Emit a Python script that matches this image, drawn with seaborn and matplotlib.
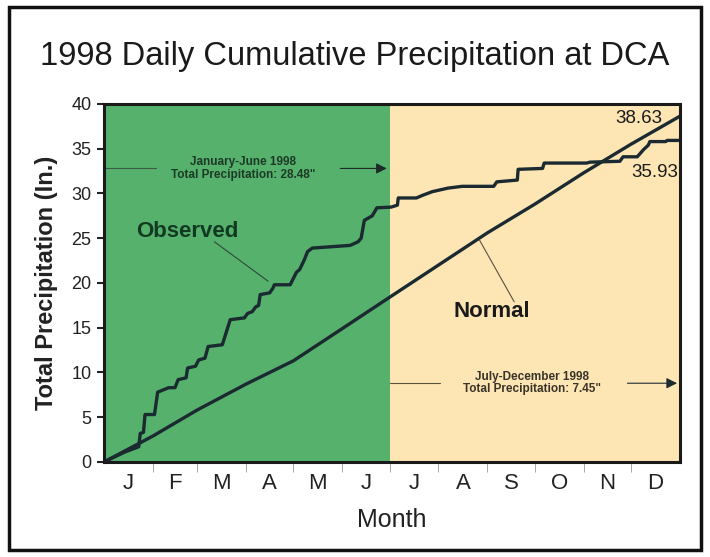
import matplotlib
import numpy as np
import pandas as pd
import seaborn as sns
from matplotlib import pyplot as plt
from matplotlib.patches import Rectangle

matplotlib.use("Agg")

# month layout (day of year)
month_labels = ["J", "F", "M", "A", "M", "J", "J", "A", "S", "O", "N", "D"]
month_edges = [0, 31, 59, 90, 120, 151, 181, 212, 243, 273, 304, 334, 365]

# observed cumulative precipitation
obs_day = [0, 13, 22, 23, 25, 26, 32, 34, 41, 45, 47, 52, 53, 58, 60, 64, 66, 75, 80, 89,
           91, 94, 96, 98, 99, 105, 107, 108, 118, 122, 124, 127, 129, 132, 156, 161, 163,
           165, 170, 173, 182, 186, 186.5, 198, 202, 208, 218, 227, 247, 249, 262, 262.5,
           278, 279, 306, 308, 327, 329, 338, 342, 345, 346, 356, 357, 365]
obs_val = [0, 1.1, 1.7, 3.2, 3.3, 5.3, 5.3, 7.8, 8.3, 8.3, 9.2, 9.4, 10.5, 10.7, 11.4, 11.6,
           12.9, 13.1, 15.9, 16.1, 16.6, 16.8, 17.3, 17.5, 18.7, 18.9, 19.4, 19.8, 19.8, 21.2,
           21.5, 22.6, 23.5, 23.9, 24.2, 24.6, 25.0, 27.0, 27.5, 28.4, 28.48, 28.7, 29.5,
           29.5, 29.8, 30.2, 30.6, 30.8, 30.8, 31.3, 31.5, 32.7, 32.8, 33.4, 33.4, 33.5,
           33.6, 34.1, 34.1, 34.9, 35.4, 35.8, 35.8, 35.93, 35.93]

# normal cumulative precipitation at month ends
normal_day = month_edges
normal_val = [0, 2.9, 5.8, 8.7, 11.3, 14.9, 18.4, 22.0, 25.6, 28.8, 32.3, 35.5, 38.63]

GREEN = "#55b16c"
YELLOW = "#fde6b4"
INK = "#1b2a30"


def main():
    sns.set_theme(style="white")
    plt.rcParams["font.family"] = ["Liberation Sans", "DejaVu Sans"]

    fig = plt.figure(figsize=(7.10, 5.57), dpi=100)
    ax = fig.add_axes([0.1465, 0.1706, 0.811, 0.6427])

    ax.axvspan(0, 181, color=GREEN, lw=0, zorder=0)
    ax.axvspan(181, 365, color=YELLOW, lw=0, zorder=0)

    obs = pd.DataFrame({"day": obs_day, "precip": obs_val})
    nrm = pd.DataFrame({"day": normal_day, "precip": normal_val})
    sns.lineplot(data=nrm, x="day", y="precip", ax=ax, color=INK, lw=2.4,
                 estimator=None, sort=False)
    sns.lineplot(data=obs, x="day", y="precip", ax=ax, color=INK, lw=2.4,
                 estimator=None, sort=False)

    ax.set_xlim(0, 365)
    ax.set_ylim(0, 40)
    ax.set_yticks(np.arange(0, 41, 5))
    mids = [(a + b) / 2 for a, b in zip(month_edges[:-1], month_edges[1:])]
    ax.set_xticks(mids)
    ax.set_xticklabels(month_labels, fontsize=16, color="#222222")
    ax.set_xticks(month_edges[1:-1], minor=True)
    ax.tick_params(axis="x", which="major", length=0, pad=8)
    ax.tick_params(axis="x", which="minor", length=7, width=0.6, color="#999999",
                   direction="out", bottom=True)
    ax.tick_params(axis="y", length=5, width=1.5, color="#222222", direction="out",
                   left=True, labelsize=13, labelcolor="#222222", pad=4)

    for side in ["left", "bottom", "top", "right"]:
        ax.spines[side].set_visible(True)
        ax.spines[side].set_color("#1a1a1a")
        ax.spines[side].set_linewidth(2.2)

    ax.set_xlabel("Month", fontsize=18, color="#222222", labelpad=10)
    ax.set_ylabel("Total Precipitation (In.)", fontsize=17, fontweight="bold",
                  color="#222222", labelpad=10)

    fig.text(0.5, 0.898, "1998 Daily Cumulative Precipitation at DCA",
             ha="center", va="center", fontsize=23.5, color="#1a1a1a")

    # series labels and leader lines
    ax.text(53, 25.8, "Observed", fontsize=16, fontweight="bold", color="#123a22",
            ha="center", va="center")
    ax.plot([70, 104], [24.6, 20.2], color="#2e4a3a", lw=0.8)
    ax.text(246, 16.8, "Normal", fontsize=16, fontweight="bold", color="#1a1a1a",
            ha="center", va="center")
    ax.plot([238, 260], [24.8, 17.9], color="#5a5040", lw=0.8)

    # end values
    ax.text(354, 38.4, "38.63", fontsize=13.5, color="#1a1a1a", ha="right", va="center")
    ax.text(364, 32.4, "35.93", fontsize=13.5, color="#1a1a1a", ha="right", va="center")

    # half-year totals with arrows
    ax.text(88, 32.8, "January-June 1998\nTotal Precipitation: 28.48\"", fontsize=8.5,
            fontweight="bold", color="#1d3a26", ha="center", va="center", linespacing=1.05)
    ax.plot([0, 33], [32.8, 32.8], color="#3d5a45", lw=0.8)
    ax.annotate("", xy=(181, 32.8), xytext=(148, 32.8),
                arrowprops=dict(arrowstyle="-|>", color="#1e2a26", lw=0.8,
                                mutation_scale=16))
    ax.text(271, 8.8, "July-December 1998\nTotal Precipitation: 7.45\"", fontsize=8.5,
            fontweight="bold", color="#3a3328", ha="center", va="center", linespacing=1.05)
    ax.plot([181, 213], [8.8, 8.8], color="#5a5040", lw=0.8)
    ax.annotate("", xy=(365, 8.8), xytext=(330, 8.8),
                arrowprops=dict(arrowstyle="-|>", color="#1e2a30", lw=0.8,
                                mutation_scale=16))

    # outer frame
    fig.patches.append(Rectangle((0.013, 0.012), 0.975, 0.975, transform=fig.transFigure,
                                 fill=False, lw=2.5, edgecolor="#111111"))

    fig.savefig("out.png", dpi=100)


if __name__ == "__main__":
    main()
